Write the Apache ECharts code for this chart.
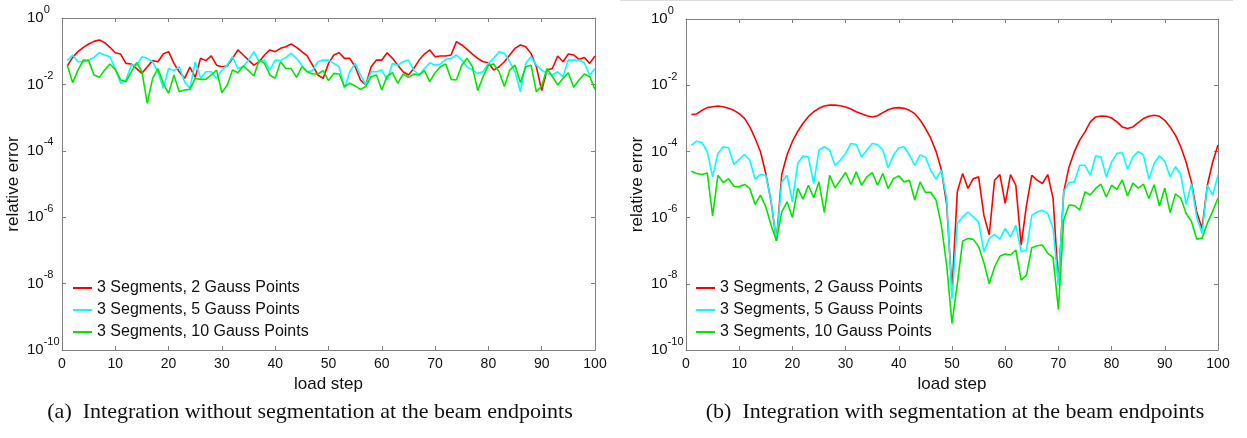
<!DOCTYPE html>
<html><head><meta charset="utf-8">
<script src="https://cdn.jsdelivr.net/npm/echarts@6/dist/echarts.min.js"></script>
<style>html,body{margin:0;padding:0;background:#fff}#c{width:1247px;height:438px}</style>
</head><body><div id="c"></div><script>
const loadSteps = [1,2,3,4,5,6,7,8,9,10,11,12,13,14,15,16,17,18,19,20,21,22,23,24,25,26,27,28,29,30,31,32,33,34,35,36,37,38,39,40,41,42,43,44,45,46,47,48,49,50,51,52,53,54,55,56,57,58,59,60,61,62,63,64,65,66,67,68,69,70,71,72,73,74,75,76,77,78,79,80,81,82,83,84,85,86,87,88,89,90,91,92,93,94,95,96,97,98,99,100];
const legendNames = ['3 Segments, 2 Gauss Points', '3 Segments, 5 Gauss Points', '3 Segments, 10 Gauss Points'];
const xAxisName = 'load step';
const yAxisName = 'relative error';
const captionA = '(a)  Integration without segmentation at the beam endpoints';
const captionB = '(b)  Integration with segmentation at the beam endpoints';

// (a) without segmentation
const noSeg2 = [0.036,0.065,0.097,0.131,0.165,0.198,0.217,0.181,0.131,0.090,0.082,0.043,0.041,0.030,0.0215,0.034,0.052,0.048,0.082,0.097,0.043,0.024,0.0152,0.033,0.0163,0.061,0.052,0.072,0.038,0.034,0.036,0.061,0.109,0.077,0.054,0.038,0.048,0.077,0.109,0.097,0.122,0.137,0.165,0.131,0.097,0.072,0.038,0.0192,0.0152,0.043,0.077,0.090,0.061,0.061,0.034,0.0136,0.0096,0.034,0.054,0.054,0.090,0.061,0.038,0.024,0.0192,0.030,0.054,0.082,0.109,0.068,0.072,0.072,0.077,0.194,0.154,0.114,0.082,0.061,0.048,0.045,0.027,0.034,0.048,0.077,0.122,0.154,0.137,0.086,0.034,0.0065,0.027,0.030,0.072,0.048,0.082,0.077,0.057,0.065,0.043,0.072];
const noSeg5 = [0.052,0.077,0.048,0.048,0.054,0.065,0.090,0.077,0.068,0.030,0.0108,0.0136,0.038,0.038,0.068,0.061,0.048,0.024,0.0076,0.030,0.026,0.034,0.0121,0.0076,0.048,0.0152,0.024,0.024,0.0152,0.027,0.038,0.068,0.030,0.034,0.054,0.097,0.048,0.054,0.027,0.054,0.052,0.065,0.086,0.061,0.038,0.024,0.026,0.048,0.054,0.054,0.043,0.034,0.0076,0.024,0.043,0.0192,0.0096,0.024,0.024,0.027,0.0136,0.043,0.038,0.048,0.054,0.027,0.0192,0.030,0.045,0.038,0.041,0.057,0.061,0.077,0.054,0.034,0.027,0.0215,0.024,0.043,0.061,0.097,0.086,0.048,0.024,0.0060,0.043,0.068,0.038,0.027,0.0215,0.0192,0.024,0.0171,0.054,0.054,0.054,0.045,0.0192,0.030];
const noSeg10 = [0.038,0.0113,0.027,0.054,0.052,0.0192,0.0163,0.027,0.041,0.028,0.0136,0.0121,0.024,0.045,0.024,0.0027,0.0152,0.030,0.0108,0.0054,0.0192,0.0060,0.0068,0.0071,0.0152,0.0142,0.0142,0.0192,0.027,0.0056,0.0096,0.027,0.0225,0.036,0.026,0.0179,0.054,0.043,0.0192,0.0152,0.048,0.030,0.030,0.0163,0.034,0.024,0.0206,0.0206,0.026,0.0130,0.0215,0.0206,0.0086,0.0108,0.0090,0.0071,0.0086,0.0171,0.0192,0.0068,0.0179,0.0225,0.0108,0.0206,0.0163,0.0206,0.0192,0.026,0.0121,0.0225,0.034,0.041,0.0142,0.0136,0.038,0.061,0.034,0.0065,0.0171,0.038,0.041,0.024,0.0086,0.027,0.038,0.0113,0.034,0.038,0.0060,0.0090,0.030,0.0171,0.0096,0.0152,0.0225,0.0082,0.0136,0.0206,0.0171,0.0071];

// (b) with segmentation
const seg2 = [1.3e-3,1.35e-3,1.74e-3,2.1e-3,2.24e-3,2.34e-3,2.24e-3,2.0e-3,1.74e-3,1.38e-3,1.0e-3,5.5e-4,2.45e-4,9.8e-5,2.14e-5,3.0e-6,2.0e-7,2.0e-5,7.9e-5,2.0e-4,4.0e-4,7.1e-4,1.12e-3,1.58e-3,2.0e-3,2.34e-3,2.5e-3,2.5e-3,2.4e-3,2.2e-3,1.9e-3,1.58e-3,1.38e-3,1.2e-3,1.1e-3,1.2e-3,1.48e-3,1.82e-3,2.04e-3,2.1e-3,2.0e-3,1.74e-3,1.38e-3,8.9e-4,5.0e-4,2.5e-4,1.0e-4,2.8e-5,2.5e-6,6.3e-9,6.0e-6,2.14e-5,7.6e-6,1.5e-5,1.7e-5,1.17e-6,3.0e-7,1.35e-5,2.0e-5,2.7e-6,2.0e-5,9.5e-6,1.48e-7,2.34e-6,1.9e-5,1.35e-5,1.07e-5,2.0e-5,3.8e-6,1.05e-8,6.0e-6,3.4e-5,9.8e-5,2.2e-4,3.9e-4,7.8e-4,1.1e-3,1.17e-3,1.15e-3,1.02e-3,7.8e-4,5.5e-4,4.9e-4,5.5e-4,7.4e-4,9.8e-4,1.15e-3,1.23e-3,1.15e-3,8.7e-4,5.5e-4,3.1e-4,1.38e-4,4.8e-5,1.2e-5,1.48e-6,4.7e-7,9.5e-6,4.8e-5,1.55e-4];
const seg5 = [1.55e-4,2.04e-4,1.86e-4,9.8e-5,1.7e-5,8.7e-5,1.38e-4,1.29e-4,4.0e-5,5.8e-5,8.1e-5,5.4e-5,1.45e-5,2.0e-5,1.9e-5,3.2e-6,2.0e-7,1.2e-5,1.9e-5,3.0e-6,4.3e-5,7.4e-5,6.8e-5,1.07e-5,1.1e-4,1.38e-4,1.1e-4,3.8e-5,5.4e-5,8.7e-5,1.74e-4,1.62e-4,6.8e-5,1.1e-4,1.74e-4,1.62e-4,1.1e-4,3.2e-5,7.8e-5,1.29e-4,1.38e-4,7.8e-5,3.8e-5,7.8e-5,6.8e-5,2.7e-5,1.45e-5,2.7e-5,3.8e-6,3.5e-9,6.6e-7,1.05e-6,1.48e-6,1.05e-6,7.4e-7,9.3e-8,2.34e-7,3.1e-7,2.24e-7,4.7e-7,2.6e-7,5.9e-7,9.3e-8,1.05e-7,1.17e-6,1.48e-6,1.66e-6,1.32e-6,4.7e-7,9.1e-9,6.0e-6,1.15e-5,1.2e-5,3.8e-5,3.8e-5,1.9e-5,7.4e-5,6.8e-5,1.7e-5,4.8e-5,8.7e-5,9.1e-5,2.9e-5,6.8e-5,9.8e-5,7.8e-5,1.45e-5,4.3e-5,7.4e-5,5.0e-5,1.7e-5,3.5e-5,2.0e-5,2.5e-6,1.05e-5,1.05e-6,3.3e-7,9.5e-6,4.8e-6,1.9e-5];
const seg10 = [2.5e-5,2.14e-5,2.0e-5,2.24e-5,1.12e-6,1.9e-5,1.15e-5,1.5e-5,8.9e-6,8.5e-6,1.0e-5,7.6e-6,2.5e-6,4.8e-6,2.1e-6,5.9e-7,2.0e-7,1.48e-6,3.0e-6,1.0e-6,7.6e-6,3.6e-6,9.5e-6,4.0e-6,1.2e-5,1.41e-6,1.9e-5,7.9e-6,1.35e-5,2.3e-5,1.0e-5,2.4e-5,9.5e-6,1.7e-5,2.3e-5,9.5e-6,2.14e-5,7.6e-6,1.5e-5,1.82e-5,1.2e-5,1.35e-5,3.4e-6,1.2e-5,5.8e-6,5.8e-6,3.4e-6,5.9e-7,3.6e-8,6.3e-10,1.0e-8,1.95e-7,2.34e-7,2.2e-7,1.35e-7,4.3e-8,1.0e-8,3.2e-8,6.8e-8,7.9e-8,7.4e-8,1.05e-7,1.29e-8,1.82e-8,1.23e-7,1.41e-7,1.48e-7,8.3e-8,6.3e-8,1.66e-9,8.5e-7,2.4e-6,2.3e-6,1.7e-6,6.0e-6,4.8e-6,7.6e-6,1.02e-5,4.2e-6,9.5e-6,7.1e-6,1.38e-5,4.5e-6,1.1e-5,7.8e-6,1.02e-5,3.8e-6,9.8e-6,2.24e-6,7.8e-6,1.41e-6,5.2e-6,3.9e-6,1.35e-6,7.6e-7,2.24e-7,2.4e-7,6.8e-7,1.55e-6,3.9e-6];

const COLORS = ['#ff0000', '#00ffff', '#00e600'];
const SANS = '"Liberation Sans", Arial, Helvetica, sans-serif';
const SERIF = '"Liberation Serif", "Times New Roman", serif';
const AX = '#808080';

const chart = echarts.init(document.getElementById('c'), null, {renderer: 'canvas'});

function xAxes(gi) {
  return [
    {gridIndex: gi, type: 'value', min: 0, max: 100, interval: 10, position: 'bottom',
     axisLine: {show: true, onZero: false, lineStyle: {color: AX, width: 1}},
     axisTick: {show: true, inside: true, length: 4, lineStyle: {color: AX}},
     axisLabel: {margin: 7, fontSize: 14, color: '#111', fontFamily: SANS},
     splitLine: {show: false},
     name: xAxisName, nameLocation: 'middle', nameGap: 25,
     nameTextStyle: {fontSize: 17, color: '#111', fontFamily: SANS}},
    {gridIndex: gi, type: 'value', min: 0, max: 100, interval: 10, position: 'top',
     axisLine: {show: true, onZero: false, lineStyle: {color: AX, width: 1}},
     axisTick: {show: true, inside: true, length: 4, lineStyle: {color: AX}},
     axisLabel: {show: false}, splitLine: {show: false}}
  ];
}
function yAxes(gi) {
  return [
    {gridIndex: gi, type: 'log', logBase: 10, min: 1e-10, max: 1, interval: 2, position: 'left',
     axisLine: {show: true, onZero: false, lineStyle: {color: AX, width: 1}},
     axisTick: {show: true, inside: true, length: 4, lineStyle: {color: AX}},
     axisLabel: {margin: 35, align: 'left', color: '#111', fontFamily: SANS,
       formatter: function (v) { return '{b|10}{s|' + Math.round(Math.log10(v)) + '}'; },
       rich: {b: {fontSize: 15, fontFamily: SANS, color: '#111'},
              s: {fontSize: 11, fontFamily: SANS, color: '#111', padding: [0, 0, 17, 0]}}},
     splitLine: {show: false}, minorTick: {show: false},
     name: yAxisName, nameLocation: 'middle', nameGap: 40, nameRotate: 90,
     nameTextStyle: {fontSize: 17, color: '#111', fontFamily: SANS}},
    {gridIndex: gi, type: 'log', logBase: 10, min: 1e-10, max: 1, interval: 2, position: 'right',
     axisLine: {show: true, onZero: false, lineStyle: {color: AX, width: 1}},
     axisTick: {show: true, inside: true, length: 4, lineStyle: {color: AX}},
     axisLabel: {show: false}, splitLine: {show: false}}
  ];
}
function mk(name, arr, gi, ci) {
  return {name: name, type: 'line', xAxisIndex: gi * 2, yAxisIndex: gi * 2,
    data: loadSteps.map(function (s, i) { return [s, arr[i]]; }),
    showSymbol: false, symbol: 'none', lineStyle: {width: 1.6, color: COLORS[ci]},
    itemStyle: {color: COLORS[ci]}, animation: false};
}
const legendBase = {orient: 'vertical', icon: 'rect', itemWidth: 19, itemHeight: 2, itemGap: 6,
  textStyle: {fontSize: 16, color: '#111', fontFamily: SANS, lineHeight: 16}, padding: 0};

chart.setOption({
  animation: false,
  backgroundColor: '#fff',
  grid: [
    {left: 62, top: 18, width: 533, height: 332, containLabel: false},
    {left: 686, top: 19, width: 532, height: 331, containLabel: false}
  ],
  xAxis: xAxes(0).concat(xAxes(1)),
  yAxis: yAxes(0).concat(yAxes(1)),
  legend: [
    Object.assign({}, legendBase, {left: 73, top: 280, data: legendNames.map(function(n){return n;})}),
    Object.assign({}, legendBase, {left: 696, top: 280, data: legendNames.map(function(n){return n + '#b';}),
      formatter: function (n) { return n.replace(/#b$/, ''); }})
  ],
  series: [
    mk(legendNames[0], noSeg2, 0, 0), mk(legendNames[1], noSeg5, 0, 1), mk(legendNames[2], noSeg10, 0, 2),
    mk(legendNames[0] + '#b', seg2, 1, 0), mk(legendNames[1] + '#b', seg5, 1, 1), mk(legendNames[2] + '#b', seg10, 1, 2)
  ],
  graphic: [
    {type: 'line', shape: {x1: 620, y1: 0.5, x2: 1233, y2: 0.5}, style: {stroke: '#dcdcdc', lineWidth: 1}},
    {type: 'text', x: 310, y: 412, style: {text: captionA, font: '22px ' + SERIF, fill: '#111', align: 'center', verticalAlign: 'middle'}},
    {type: 'text', x: 955, y: 412, style: {text: captionB, font: '22px ' + SERIF, fill: '#111', align: 'center', verticalAlign: 'middle'}}
  ]
});
</script></body></html>
